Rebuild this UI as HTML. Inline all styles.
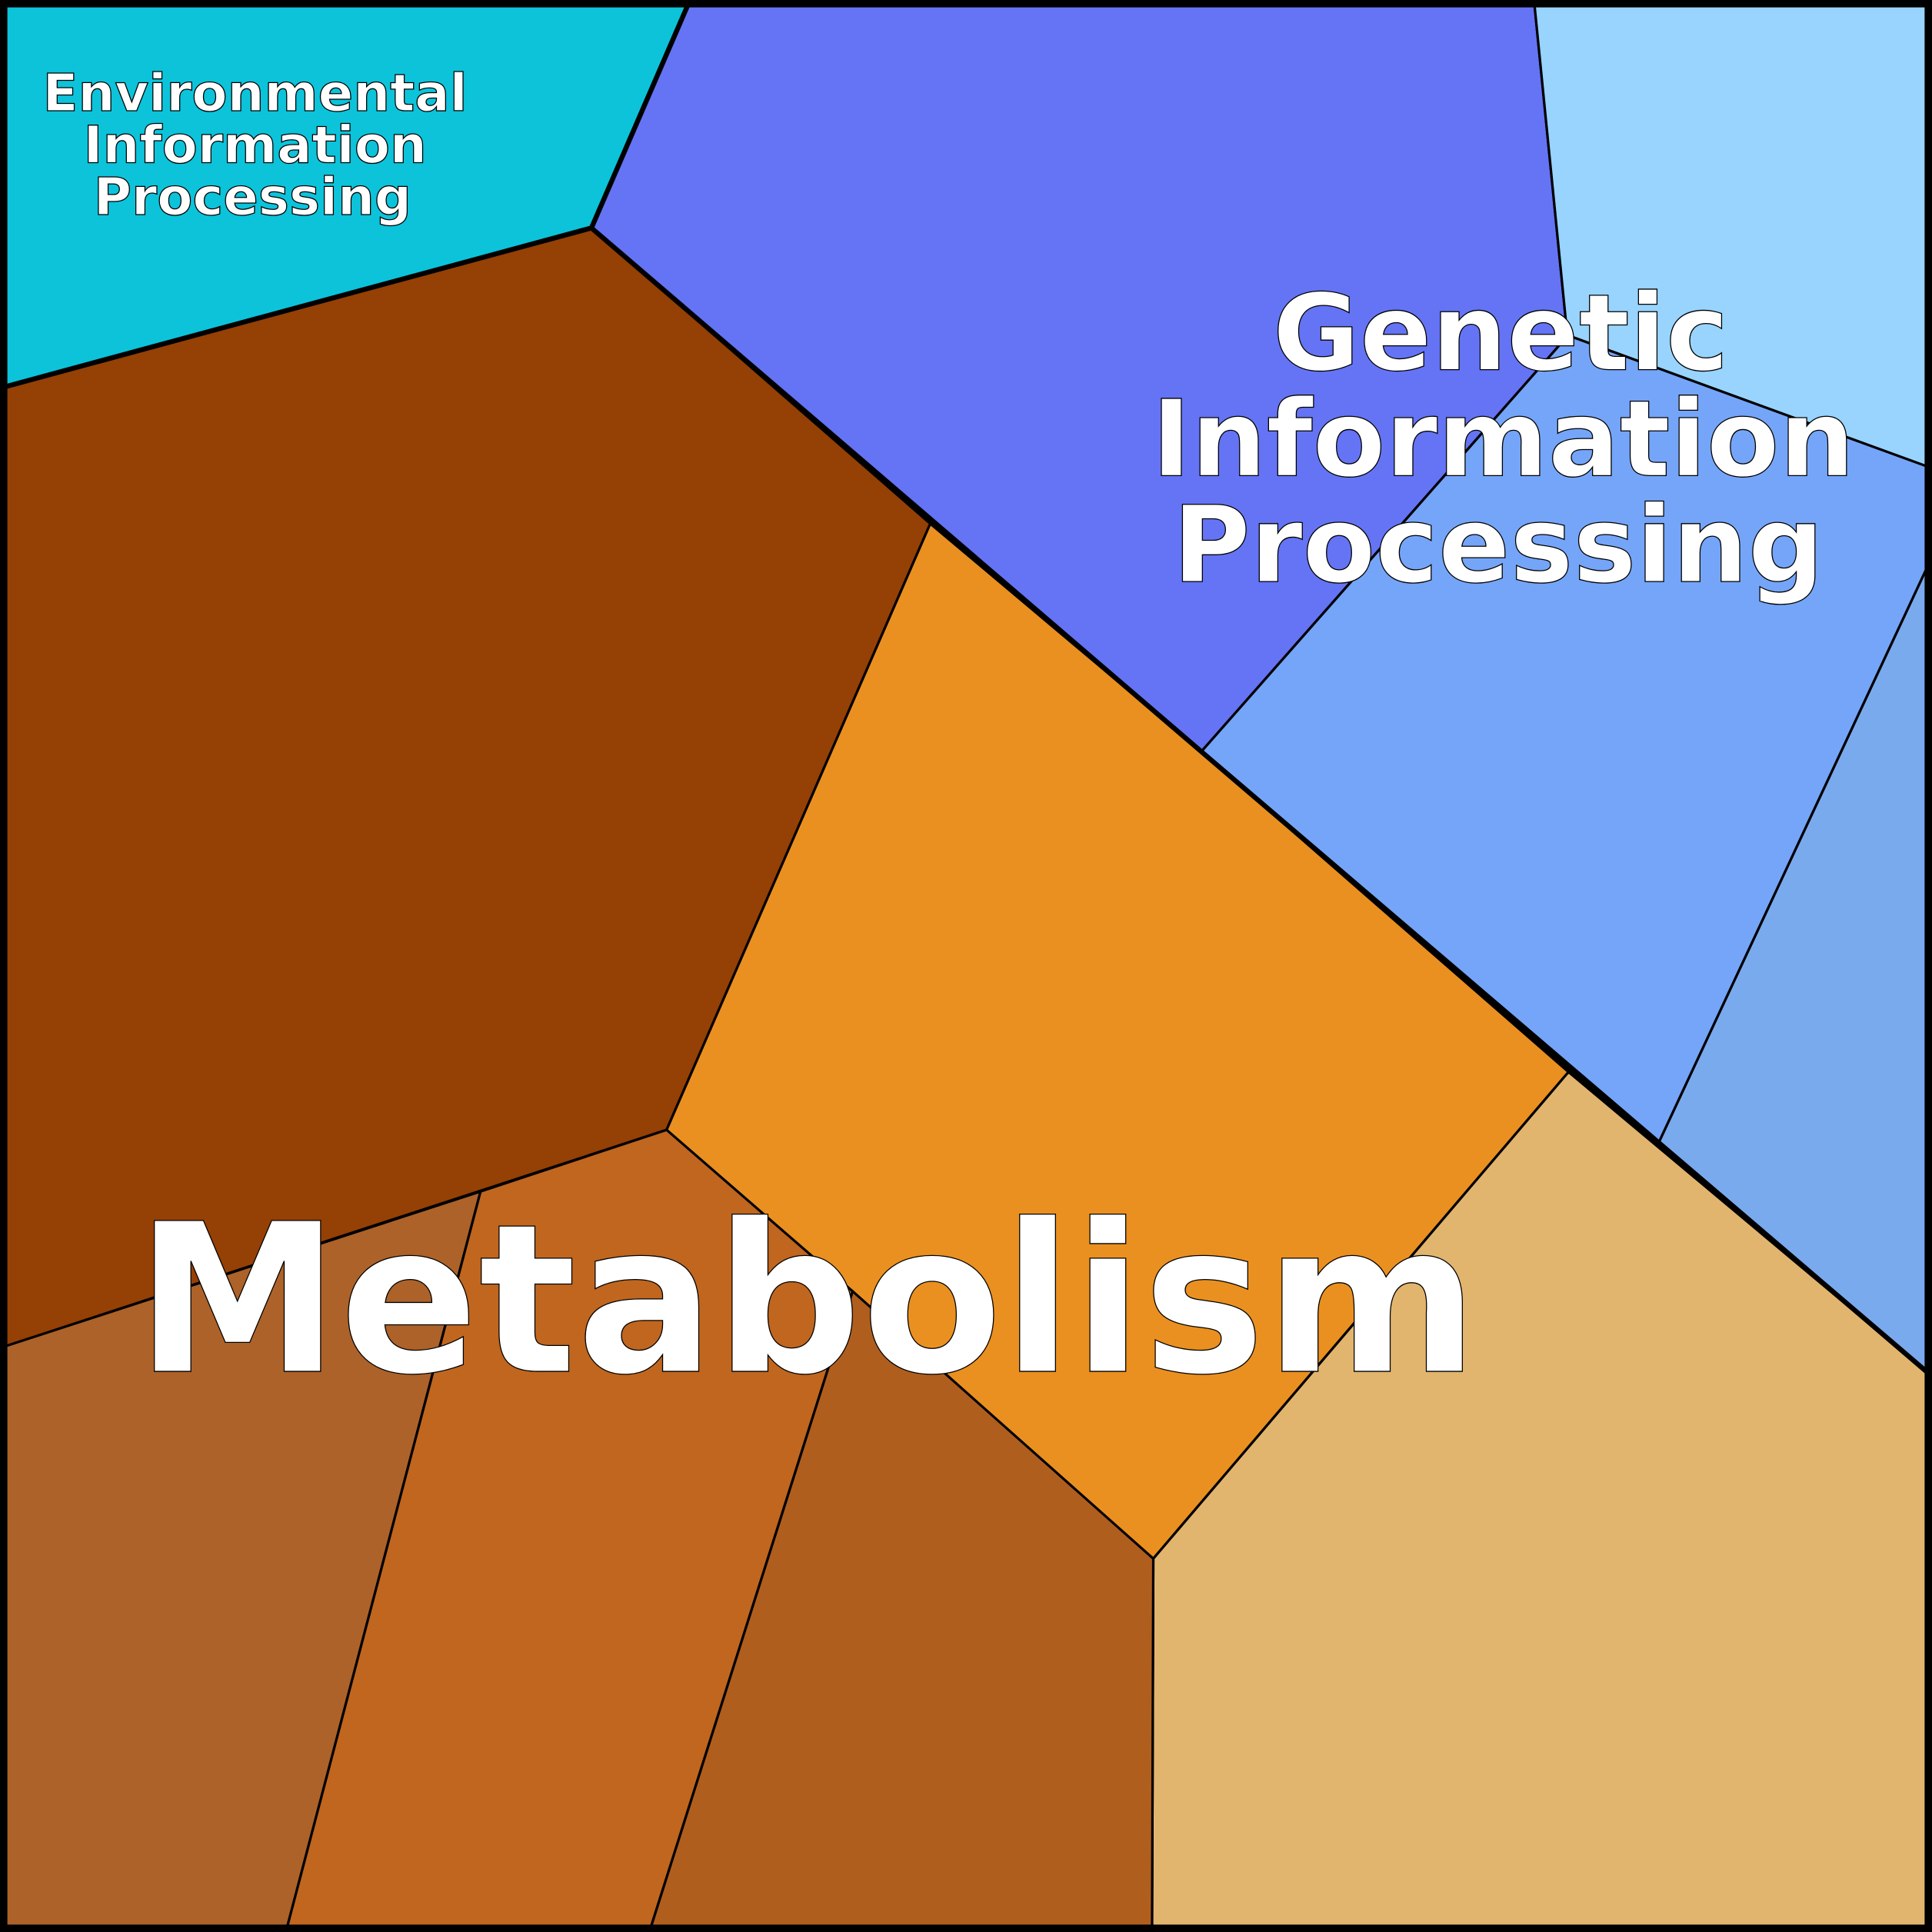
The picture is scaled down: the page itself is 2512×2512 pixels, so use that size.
<!DOCTYPE html>
<html><head><meta charset="utf-8"><style>
html,body{margin:0;padding:0;background:#fff;}
svg{display:block;}
text{font-family:"DejaVu Sans","Liberation Sans",sans-serif;font-weight:bold;fill:#fff;stroke:#000;stroke-width:0.8;text-anchor:middle;}
</style></head><body>
<svg width="2512" height="2512" viewBox="0 0 1568 1568" xmlns="http://www.w3.org/2000/svg">
<g stroke="#000" stroke-width="2" stroke-linejoin="round">
<polygon points="0,0 560,0 480,185 0,315" fill="#0cc3da"/>
<polygon points="560,0 1245,0 1272,272 1264,282 975,610 755,425 480,185" fill="#6474f4"/>
<polygon points="1245,0 1568,0 1568,380 1272,272" fill="#98d4fe"/>
<polygon points="1272,272 1568,380 1568,452 1345,930 975,610 1264,282" fill="#75a5f8"/>
<polygon points="1568,452 1568,1117 1345,930" fill="#7aaaee"/>
<polygon points="0,315 480,185 755,425 541,917 0,1094" fill="#954005"/>
<polygon points="755,425 975,610 1273,870 936,1265 541,917" fill="#ea9020"/>
<polygon points="1273,870 1568,1117 1568,1568 935,1568 936,1265" fill="#e2b56e"/>
<polygon points="0,1094 390,967 232,1568 0,1568" fill="#ad6229"/>
<polygon points="390,967 541,917 692,1048 527,1568 232,1568" fill="#c0661f"/>
<polygon points="692,1048 936,1265 935,1568 527,1568" fill="#b05e1e"/>
</g>
<g stroke="#000" stroke-width="4" fill="none" stroke-linejoin="round">
<polyline points="0,315 480,185 560,0"/>
<polyline points="480,185 975,610 1568,1117"/>
</g>
<rect x="2" y="2" width="1564" height="1564" fill="none" stroke="#000" stroke-width="8" rx="4"/>
<text x="207" y="90" font-size="42">Environmental</text>
<text x="207" y="132" font-size="42">Information</text>
<text x="205" y="174" font-size="42">Processing</text>
<text x="1218" y="300" font-size="86">Genetic</text>
<text x="1220" y="386" font-size="86">Information</text>
<text x="1216" y="472" font-size="86">Processing</text>
<text x="655" y="1113" font-size="168" textLength="1090" lengthAdjust="spacingAndGlyphs">Metabolism</text>
</svg>
</body></html>
